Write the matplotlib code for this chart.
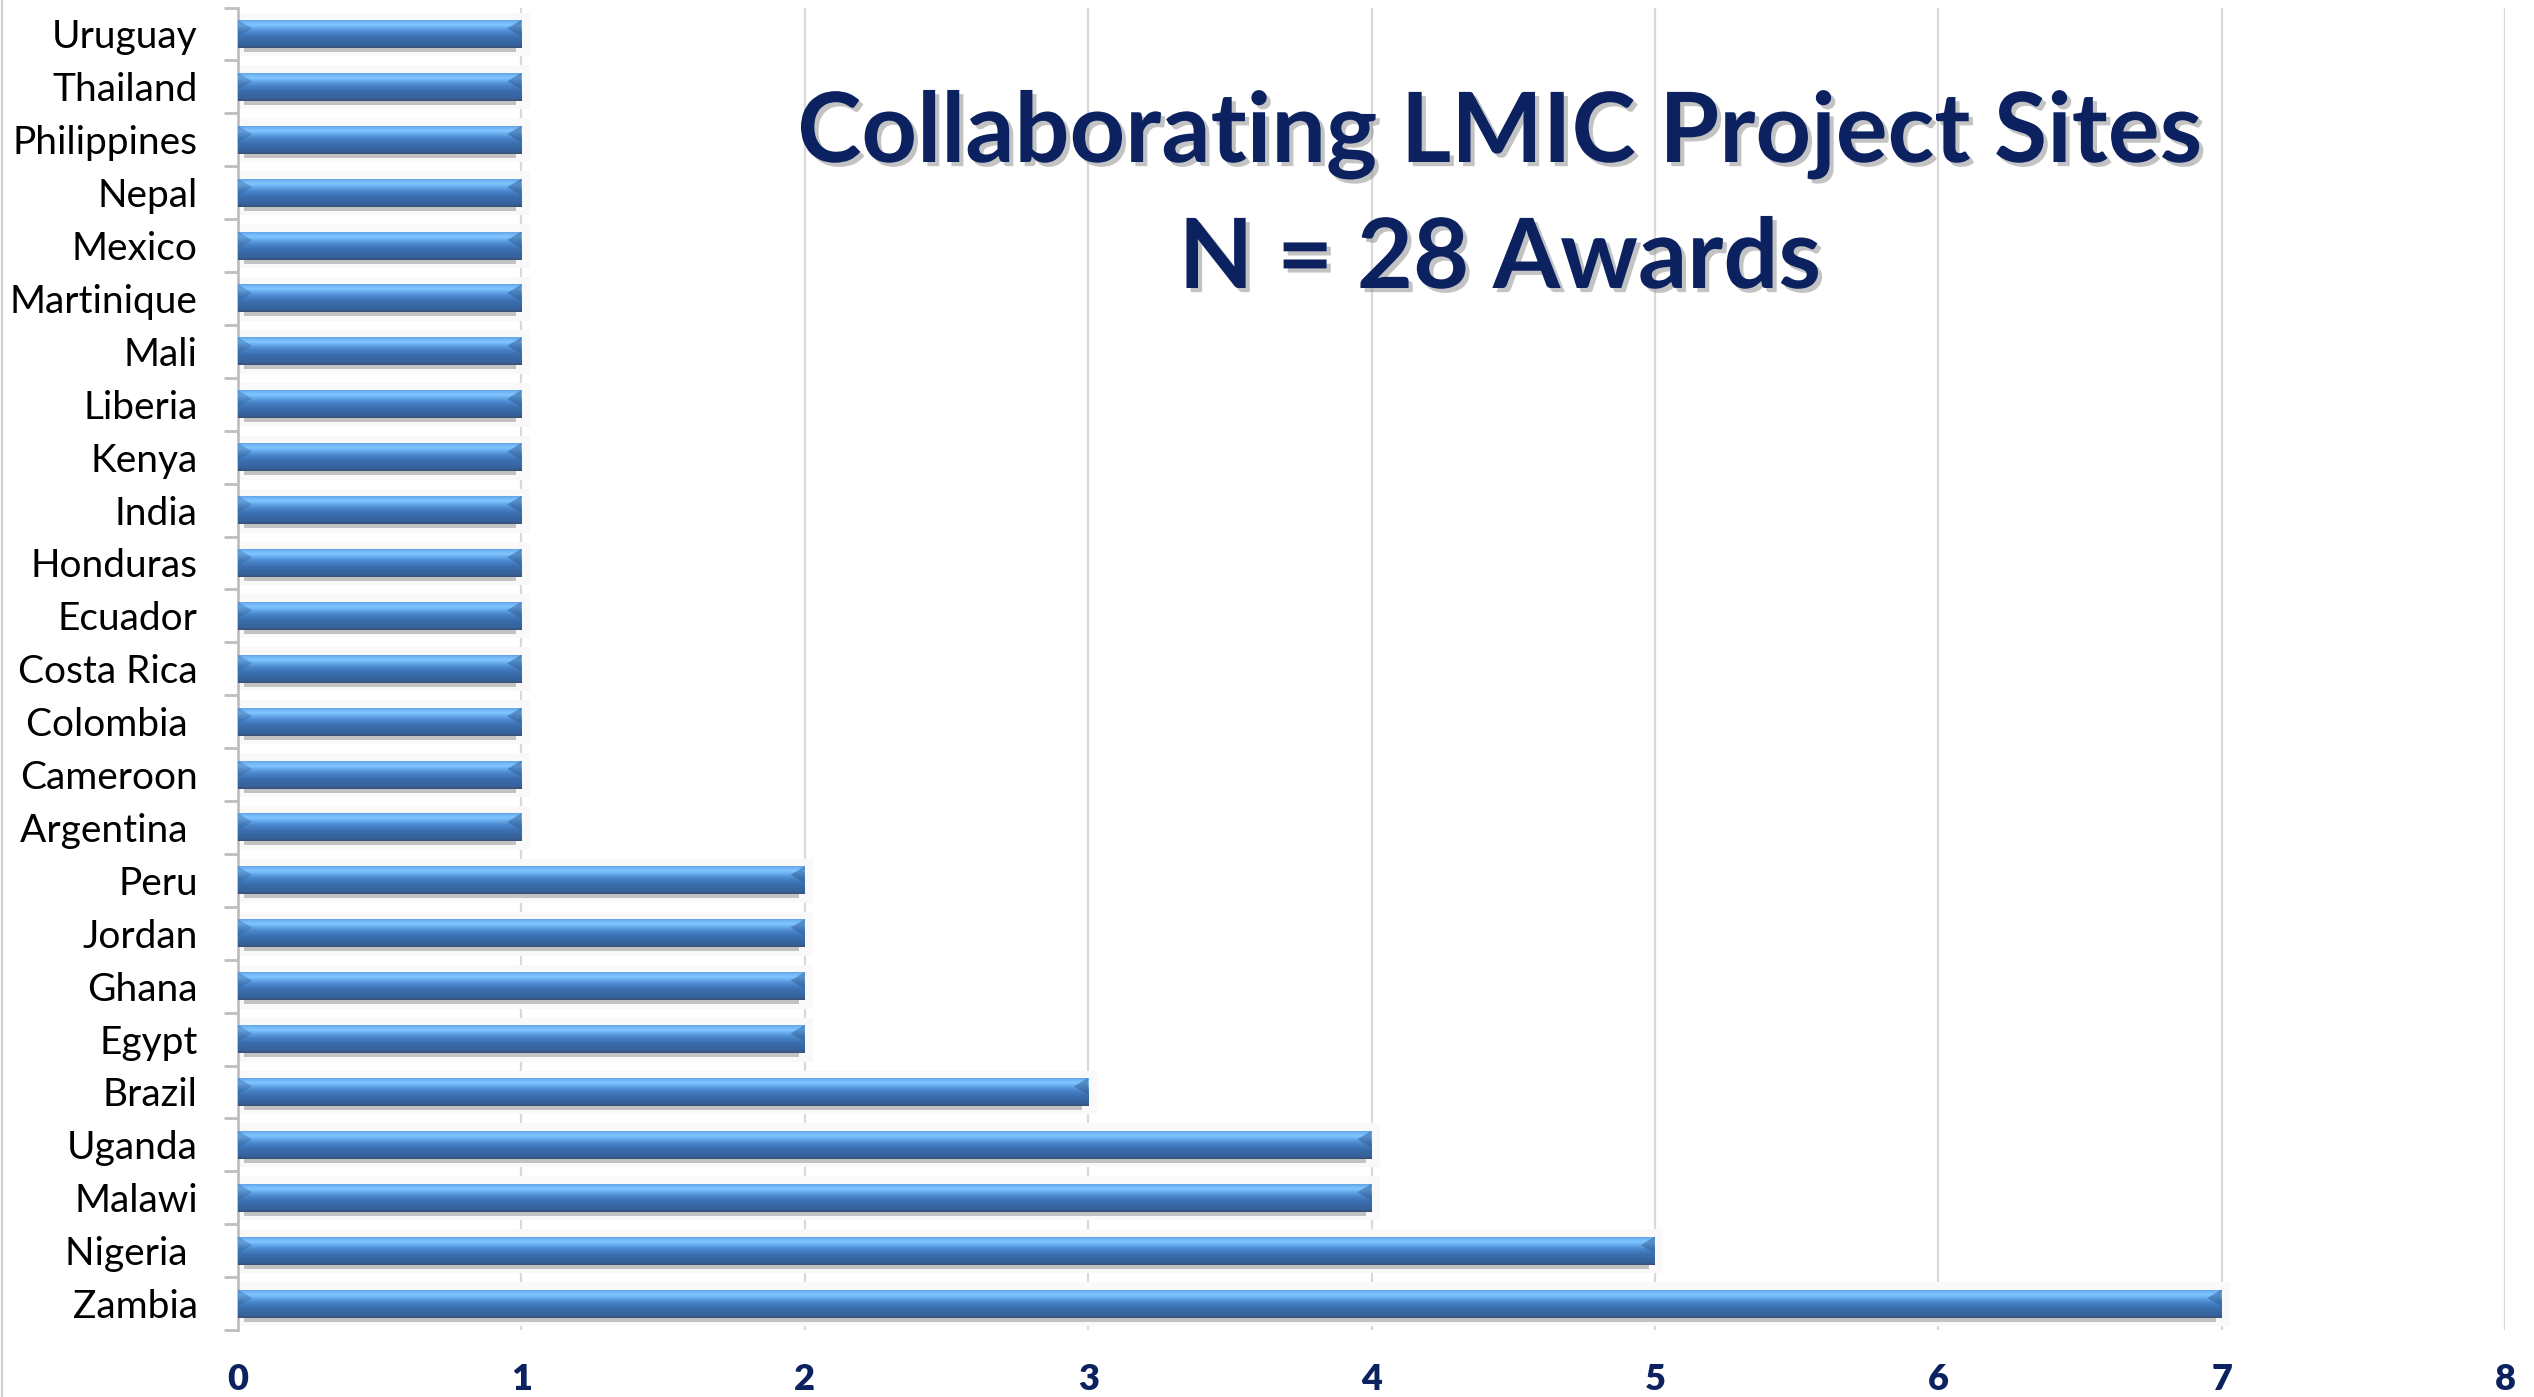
import matplotlib
matplotlib.use("Agg")
import matplotlib.pyplot as plt
import matplotlib.patheffects as pe
from matplotlib.colors import LinearSegmentedColormap
from matplotlib.lines import Line2D
import numpy as np

# ---- data (top to bottom as shown) ----
countries = ["Uruguay", "Thailand", "Philippines", "Nepal", "Mexico", "Martinique",
             "Mali", "Liberia", "Kenya", "India", "Honduras", "Ecuador", "Costa Rica",
             "Colombia ", "Cameroon", "Argentina ", "Peru", "Jordan", "Ghana", "Egypt",
             "Brazil", "Uganda", "Malawi", "Nigeria ", "Zambia"]
awards = [1, 1, 1, 1, 1, 1, 1, 1, 1, 1, 1, 1, 1, 1, 1, 1, 2, 2, 2, 2, 3, 4, 4, 5, 7]
x_ticks = [0, 1, 2, 3, 4, 5, 6, 7, 8]
title_line1 = "Collaborating LMIC Project Sites"
title_line2 = "N = 28 Awards"

NAVY = "#0c2260"
W, H, DPI = 2534, 1397, 100
fig = plt.figure(figsize=(W / DPI, H / DPI), dpi=DPI)
fig.patch.set_facecolor("white")

ax_l, ax_r, ax_top, ax_bot = 238, 2505, 7.5, 1330
ax = fig.add_axes([ax_l / W, 1 - ax_bot / H, (ax_r - ax_l) / W, (ax_bot - ax_top) / H])

n = len(countries)
ypos = np.arange(n)[::-1]  # first country at top
bh = 0.53

grad_cmap = LinearSegmentedColormap.from_list("bar3d", [
    (0.00, "#3a4e6c"),
    (0.08, "#36609a"),
    (0.35, "#3a6eae"),
    (0.55, "#4a86cc"),
    (0.70, "#68acee"),
    (0.80, "#80c6ff"),
    (0.90, "#72b6f6"),
    (1.00, "#5a9ae0"),
])
grad = np.linspace(0, 1, 256).reshape(-1, 1)

for y, v in zip(ypos, awards):
    # faint floor band
    ax.add_patch(plt.Rectangle((0, y - bh / 2 - 0.16), v + 0.03, bh + 0.30,
                               facecolor="#f9f9f9", edgecolor="none", zorder=1))
    # shadow
    ax.barh(y - 0.075, v - 0.04, left=0.02, height=bh, color="#c2c2c2", zorder=2, linewidth=0)
bars = ax.barh(ypos, awards, height=bh, color="#3b72b4", zorder=3, linewidth=0)
for b, y, v in zip(bars, ypos, awards):
    im = ax.imshow(grad, extent=[0, v, y - bh / 2, y + bh / 2], origin="lower",
                   cmap=grad_cmap, aspect="auto", zorder=4, interpolation="bilinear")
    im.set_clip_path(b)
    # bevel ends
    bev = 0.05
    ax.fill([0, bev, 0], [y + bh / 2, y + bh / 2 - 0.16, y - 0.05],
            color="#2f5a90", alpha=0.35, zorder=5, linewidth=0)
    ax.fill([v, v - bev, v], [y + bh / 2, y + bh / 2 - 0.16, y - 0.05],
            color="#2f5a90", alpha=0.5, zorder=5, linewidth=0)

ax.set_xlim(0, 8)
ax.set_ylim(-0.5, n - 0.5)

# grid
ax.set_xticks(x_ticks)
ax.set_xticklabels([str(t) for t in x_ticks], fontdict={"family": "Lato", "weight": "heavy",
                                                        "size": 26, "color": NAVY})
ax.xaxis.grid(True, color="#d9d9d9", linewidth=1.6, zorder=0)
ax.set_axisbelow(True)
ax.tick_params(axis="x", length=0, pad=24)

ax.set_yticks(ypos)
ax.set_yticklabels(countries, fontdict={"family": "Lato", "size": 28, "color": "black"})
ax.tick_params(axis="y", which="major", length=0, pad=29)
ax.set_yticks(np.arange(-0.5, n, 1.0), minor=True)
ax.tick_params(axis="y", which="minor", length=10, width=2, color="#bfbfbf", direction="out")

for s in ["top", "right", "bottom"]:
    ax.spines[s].set_visible(False)
ax.spines["left"].set_color("#bfbfbf")
ax.spines["left"].set_linewidth(2)

# title
shadow = [pe.withSimplePatchShadow(offset=(3, -3), shadow_rgbFace="#888888", alpha=0.5)]
t1 = fig.text(1500 / W, 1 - 162 / H, title_line1, ha="center", va="baseline",
              fontsize=70, fontweight="bold", family="Lato", color=NAVY, path_effects=shadow)
t2 = fig.text(1500 / W, 1 - 288 / H, title_line2, ha="center", va="baseline",
              fontsize=70, fontweight="bold", family="Lato", color=NAVY, path_effects=shadow)
fig.canvas.draw()
r = fig.canvas.get_renderer()
w1 = t1.get_window_extent(r).width
fs = 70 * 1406 / w1
t1.set_fontsize(fs)
t2.set_fontsize(fs)

fig.add_artist(Line2D([1.5 / W, 1.5 / W], [0, 1], color="#d0d0d0", linewidth=1.5))

fig.savefig("out.png", dpi=DPI, facecolor="white")
